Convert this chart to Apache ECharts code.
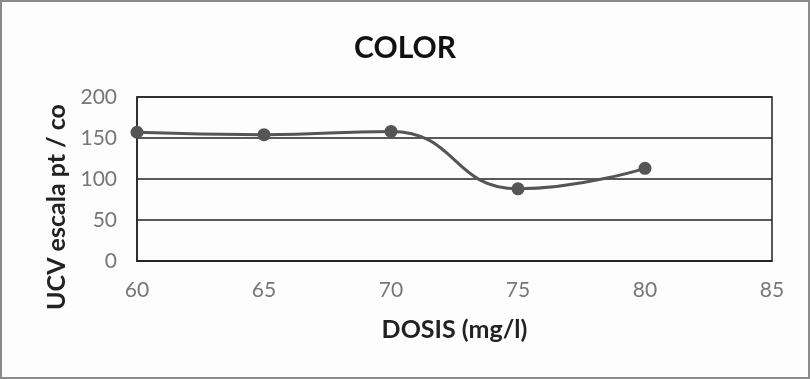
<!DOCTYPE html>
<html>
<head>
<meta charset="utf-8">
<script src="https://cdn.jsdelivr.net/npm/echarts@6/dist/echarts.min.js"></script>
<style>
  html, body { margin: 0; padding: 0; background: #fff; }
  #chart { width: 806px; height: 375px; border: 2px solid #8a8a8a; background: #fdfdfd; }
</style>
</head>
<body>
<div id="chart"></div>
<script>
// dose (mg/l) vs colour (UCV escala pt/co)
const dosis = [60, 65, 70, 75, 80];
const color = [157, 154, 158, 88, 113];

const chart = echarts.init(document.getElementById('chart'));

let option = {
  animation: false,
  title: {
    text: 'COLOR',
    left: 'center',
    top: 26,
    textStyle: { fontFamily: 'Lato', fontWeight: 'bold', fontSize: 30, color: '#111' }
  },
  grid: {
    left: 135, right: 36, top: 95, bottom: 116,
    show: true, borderColor: '#222', borderWidth: 1.5
  },
  xAxis: {
    type: 'value',
    min: 60, max: 85, interval: 5,
    name: 'DOSIS (mg/l)',
    nameLocation: 'middle',
    nameGap: 56,
    nameTextStyle: { fontFamily: 'Lato', fontWeight: 'bold', fontSize: 25, color: '#222' },
    axisLine: { lineStyle: { color: '#222', width: 1.5 } },
    axisTick: { show: false },
    axisLabel: { fontFamily: 'Lato', fontSize: 21, color: '#777', margin: 19 },
    splitLine: { show: false }
  },
  yAxis: {
    type: 'value',
    min: 0, max: 200, interval: 50,
    name: 'UCV escala pt / co',
    nameLocation: 'middle',
    nameRotate: 90,
    nameGap: 62,
    nameTextStyle: { fontFamily: 'Lato', fontWeight: 'bold', fontSize: 25, color: '#222', padding: [0, 56, 0, 0] },
    axisLine: { show: true, lineStyle: { color: '#222', width: 1.5 } },
    axisTick: { show: false },
    axisLabel: { fontFamily: 'Lato', fontSize: 21, color: '#777', margin: 20 },
    splitLine: { lineStyle: { color: '#222', width: 1.5 } }
  },
  series: [
    {
      type: 'line',
      data: dosis.map((d, i) => [d, color[i]]),
      smooth: 0.5,
      symbol: 'circle',
      symbolSize: 13,
      lineStyle: { color: '#555', width: 3 },
      itemStyle: { color: '#555' }
    }
  ]
};

option && chart.setOption(option);
</script>
</body>
</html>
